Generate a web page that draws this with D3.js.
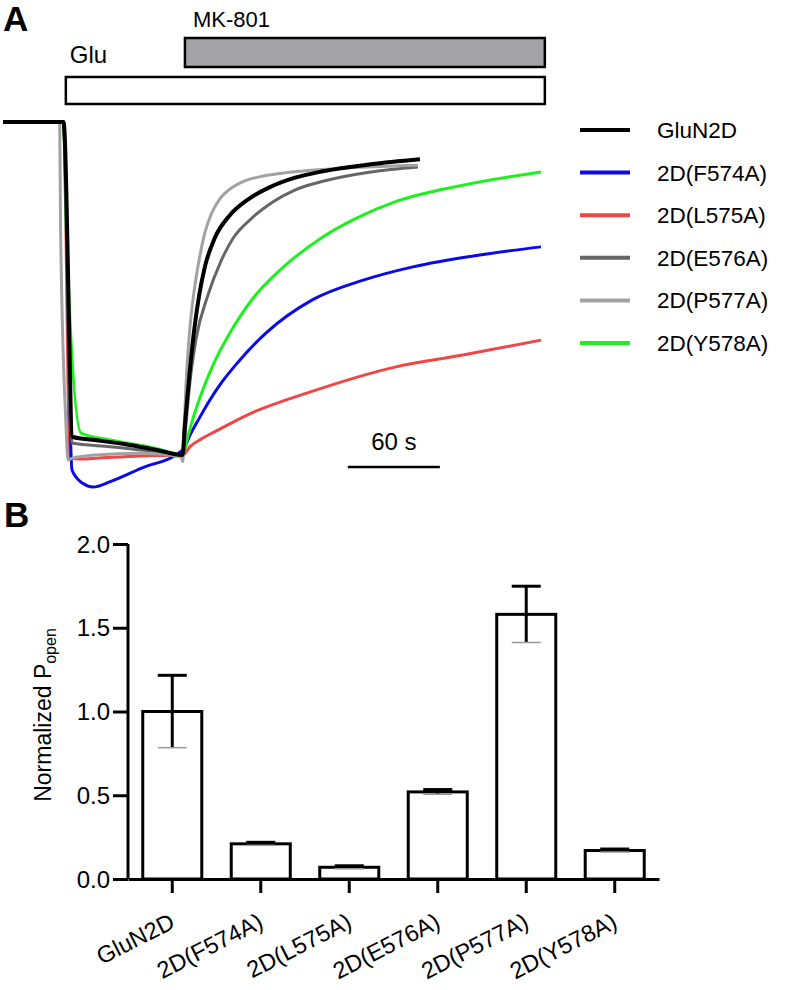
<!DOCTYPE html>
<html><head><meta charset="utf-8">
<script src="https://cdn.jsdelivr.net/npm/d3@7"></script>
<style>
html,body{margin:0;padding:0;background:#fff;}
svg text{font-family:"Liberation Sans",Arial,Helvetica,sans-serif;fill:#000;}
</style></head>
<body>
<svg id="fig" width="791" height="990"></svg>
<script>
// ---------- DATA ----------
// Panel A: normalized current traces, [time (s), normalized current]
const traceNames = ["GluN2D","2D(F574A)","2D(L575A)","2D(E576A)","2D(P577A)","2D(Y578A)"];
const traceColors = ["#000000","#0a0ae8","#f04646","#666666","#a2a2a2","#1ef01e"];
const traceGluN2D = [[0,0],[39.5,0],[45.5,-0.946],[60,-0.955],[80,-0.968],[100,-0.985],[117.2,-1.0],[118.5,-0.92],[120,-0.84],[122,-0.74],[125,-0.615],[128,-0.52],[131.7,-0.435],[138,-0.35],[148,-0.28],[160,-0.232],[173.5,-0.197],[190,-0.168],[208.7,-0.148],[240,-0.127],[272,-0.112]];
const traceF574A = [[0,0],[39.5,0],[45,-1.045],[52,-1.085],[58.7,-1.096],[70,-1.08],[90,-1.04],[117.4,-0.985],[122,-0.94],[128,-0.89],[135,-0.835],[143,-0.78],[152.6,-0.725],[171.5,-0.634],[201.5,-0.535],[235,-0.475],[267.4,-0.435],[310,-0.40],[351,-0.375]];
const traceL575A = [[0,0],[39.5,0],[43.7,-1.01],[50,-1.012],[63,-1.009],[90,-1.003],[117.4,-1.0],[122,-0.975],[130,-0.95],[138.3,-0.93],[161.7,-0.875],[199.6,-0.812],[255.7,-0.736],[300,-0.70],[351,-0.655]];
const traceE576A = [[0,0],[39.3,0],[44,-0.9],[45,-0.964],[70,-0.975],[100,-0.99],[117.4,-1.0],[119.5,-0.9],[122,-0.78],[126,-0.65],[133.7,-0.52],[142,-0.42],[150,-0.35],[162,-0.29],[176,-0.24],[190,-0.205],[208.7,-0.178],[240,-0.150],[270.7,-0.135]];
const traceP577A = [[0,0],[37,0],[37.5,-0.3],[41,-0.9],[42.4,-1.015],[45,-1.01],[60,-1.0],[90,-0.995],[116,-1.005],[117.4,-1.02],[118.3,-0.9],[119.5,-0.78],[121,-0.67],[123,-0.57],[125.9,-0.47],[128.5,-0.40],[131.7,-0.333],[136,-0.275],[141,-0.234],[150,-0.195],[157,-0.178],[170,-0.162],[185,-0.152],[230,-0.137],[270.7,-0.13]];
const traceY578A = [[0,0],[39.5,0],[41.1,-0.3],[50.9,-0.934],[70,-0.955],[100,-0.98],[117.4,-1.0],[120,-0.955],[124,-0.89],[129.1,-0.82],[137,-0.73],[148,-0.634],[163,-0.53],[180.7,-0.445],[208.7,-0.345],[230,-0.29],[255.7,-0.24],[300,-0.19],[351,-0.150]];
const drawOrder = [2,1,5,3,4,0];
const gluApplication = [41, 353.5];   // seconds
const mk801Application = [118.7, 353.5];
const scaleBarSeconds = [225, 285];    // 60 s
// Panel B
const categories = ["GluN2D","2D(F574A)","2D(L575A)","2D(E576A)","2D(P577A)","2D(Y578A)"];
const popenMean = [1.0, 0.21, 0.07, 0.52, 1.58, 0.17];
const popenSem  = [0.216, 0.009, 0.009, 0.014, 0.168, 0.009];
const yTicks = [0.0, 0.5, 1.0, 1.5, 2.0];

// ---------- HELPERS ----------
const svg = d3.select("#fig");
function txt(g, x, y, s, opts={}) {
  return g.append("text")
    .attr("transform", `translate(${x},${y})` + (opts.rot ? ` rotate(${opts.rot})` : ""))
    .attr("font-size", opts.size || 23)
    .attr("text-anchor", opts.anchor || "start")
    .attr("font-weight", opts.weight || "normal")
    .text(s);
}

// ---------- PANEL A ----------
const gA = svg.append("g");
const x = d3.scaleLinear().domain([0, 351]).range([3, 541]);
const y = d3.scaleLinear().domain([0, -1]).range([122, 455]);

txt(gA, 3, 31, "A", {size: 35, weight: "bold"});
gA.append("rect").attr("x", x(mk801Application[0])).attr("y", 38)
  .attr("width", x(mk801Application[1]) - x(mk801Application[0])).attr("height", 29)
  .attr("fill", "#a3a3a8").attr("stroke", "#000").attr("stroke-width", 2.5);
txt(gA, x(mk801Application[0]) + 8, 27, "MK-801", {size: 22});
gA.append("rect").attr("x", x(gluApplication[0])).attr("y", 77)
  .attr("width", x(gluApplication[1]) - x(gluApplication[0])).attr("height", 27)
  .attr("fill", "#fff").attr("stroke", "#000").attr("stroke-width", 2.5);
txt(gA, x(gluApplication[0]) + 4, 63, "Glu", {size: 24});

const traces = [traceGluN2D, traceF574A, traceL575A, traceE576A, traceP577A, traceY578A];
const line = d3.line().x(d => x(d[0])).y(d => y(d[1])).curve(d3.curveMonotoneX);
drawOrder.forEach(i => {
  gA.append("path").datum(traces[i]).attr("d", line)
    .attr("fill", "none").attr("stroke", traceColors[i])
    .attr("stroke-width", i === 0 ? 4 : 3)
    .attr("stroke-linejoin", "round");
});

gA.append("line").attr("x1", x(scaleBarSeconds[0])).attr("x2", x(scaleBarSeconds[1]))
  .attr("y1", 467).attr("y2", 467).attr("stroke", "#000").attr("stroke-width", 2.5);
txt(gA, (x(scaleBarSeconds[0]) + x(scaleBarSeconds[1])) / 2, 450, "60 s", {anchor: "middle", size: 24});

const ly = d3.scalePoint().domain(traceNames).range([130, 343]);
traceNames.forEach((n, i) => {
  gA.append("line").attr("x1", 580).attr("x2", 630).attr("y1", ly(n)).attr("y2", ly(n))
    .attr("stroke", traceColors[i]).attr("stroke-width", 4);
  txt(gA, 657, ly(n) + 8, n, {size: 22.5});
});

// ---------- PANEL B ----------
const gB = svg.append("g");
txt(gB, 4, 527, "B", {size: 35, weight: "bold"});
const yb = d3.scaleLinear().domain([0, 2]).range([879, 544]);
const xb = d3.scaleBand().domain(categories).range([128, 659]).paddingInner(0.333).paddingOuter(0.1667);

const yAxis = d3.axisLeft(yb).tickValues(yTicks).tickFormat(d3.format(".1f")).tickSize(15).tickSizeOuter(0);
const yg = gB.append("g").attr("transform", "translate(128,0)").call(yAxis);
yg.select(".domain").attr("stroke-width", 3).attr("d", `M0,${yb(0)}V${yb(2)}`);
yg.selectAll(".tick line").attr("stroke-width", 3);
yg.selectAll(".tick text").remove();
yTicks.forEach(v => txt(gB, 110, yb(v) + 8.5, d3.format(".1f")(v), {anchor: "end", size: 24}));

const xAxis = d3.axisBottom(xb).tickSize(14).tickSizeOuter(0);
const xg = gB.append("g").attr("transform", `translate(0,${yb(0)})`).call(xAxis);
xg.select(".domain").attr("stroke-width", 3);
xg.selectAll(".tick line").attr("stroke-width", 3);
xg.selectAll(".tick text").remove();

categories.forEach((c, i) => {
  gB.append("rect").attr("x", xb(c)).attr("y", yb(popenMean[i]))
    .attr("width", xb.bandwidth()).attr("height", yb(0) - yb(popenMean[i]))
    .attr("fill", "#fff").attr("stroke", "#000").attr("stroke-width", 3);
});
categories.forEach((c, i) => {
  const cx = xb(c) + xb.bandwidth() / 2, hw = 14.5;
  const top = yb(popenMean[i] + popenSem[i]), bot = yb(popenMean[i] - popenSem[i]);
  gB.append("line").attr("x1", cx).attr("x2", cx).attr("y1", top).attr("y2", bot)
    .attr("stroke", "#000").attr("stroke-width", 3);
  gB.append("line").attr("x1", cx - hw).attr("x2", cx + hw).attr("y1", bot).attr("y2", bot)
    .attr("stroke", "#999").attr("stroke-width", 1.5);
  gB.append("line").attr("x1", cx - hw).attr("x2", cx + hw).attr("y1", top).attr("y2", top)
    .attr("stroke", "#000").attr("stroke-width", 3);
});

categories.forEach(c => {
  const cx = xb(c) + xb.bandwidth() / 2;
  txt(gB, cx + 4, 927, c, {anchor: "end", rot: -27, size: 23.5});
});

const yl = gB.append("text")
  .attr("transform", `translate(51,715) rotate(-90)`)
  .attr("font-size", 23).attr("text-anchor", "middle");
yl.append("tspan").text("Normalized P");
yl.append("tspan").attr("font-size", 16).attr("dy", 5).text("open");
</script>
</body></html>
